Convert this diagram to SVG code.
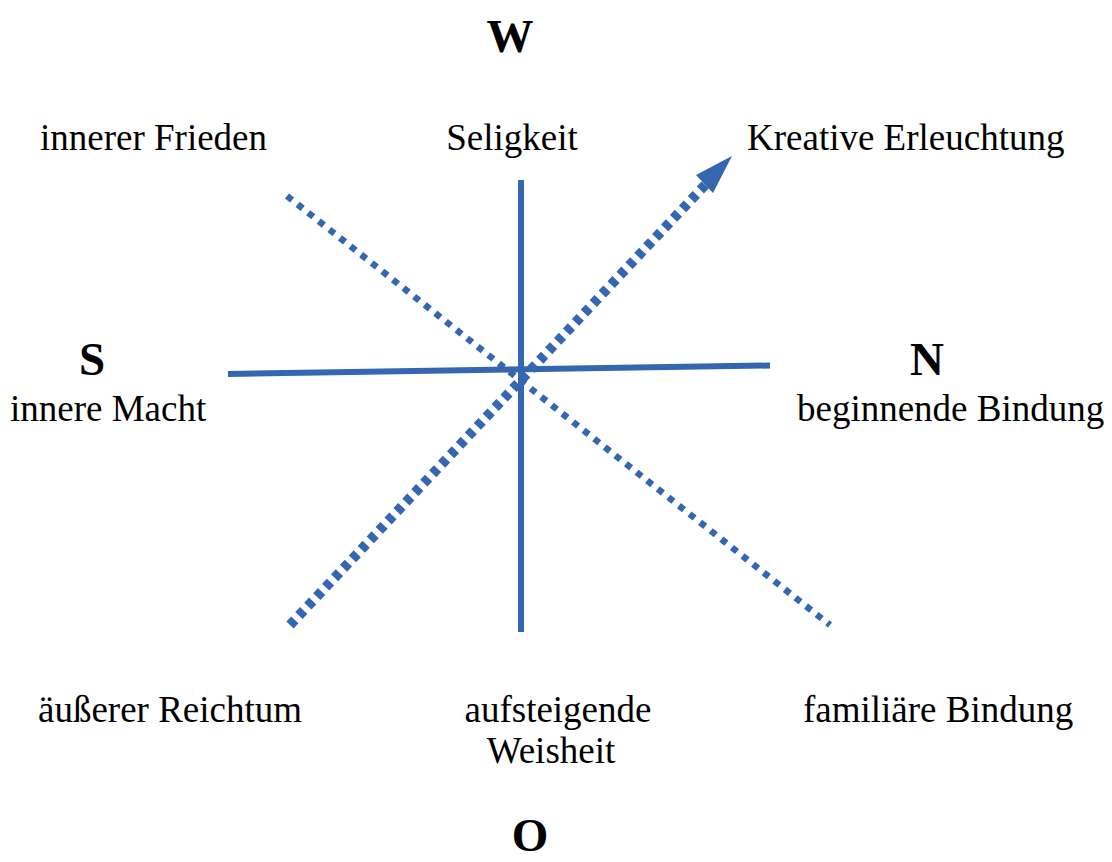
<svg xmlns="http://www.w3.org/2000/svg" width="1112" height="862" viewBox="0 0 1112 862">
<style>
.t{font-family:"Liberation Serif","Times New Roman",serif;font-size:37px;fill:#000}
.b{font-family:"Liberation Serif","Times New Roman",serif;font-size:47px;font-weight:bold;fill:#000}
.m{text-anchor:middle}
.solid{stroke:#3566B0;stroke-width:6;fill:none}
.dot{stroke:#3566B0;stroke-width:6.5;stroke-dasharray:6.5 7;fill:none}
.dash{stroke:#3566B0;stroke-width:10;stroke-dasharray:7 6;fill:none}
</style>
<rect width="1112" height="862" fill="#fff"/>
<g id="connectors">
<line class="solid" x1="521" y1="180" x2="521" y2="632"/>
<line class="solid" x1="228" y1="374" x2="770" y2="365.5"/>
<line class="dot" x1="287" y1="196" x2="830" y2="625"/>
<line class="dash" x1="290" y1="625" x2="707" y2="183"/>
<polygon points="732,156 696,175 713,193" fill="#3566B0"/>
</g>
<g id="W"><text class="b m" x="510" y="52">W</text></g>
<g id="S"><text class="b m" x="92" y="375">S</text></g>
<g id="N"><text class="b m" x="927" y="375">N</text></g>
<g id="O"><text class="b m" x="530" y="851">O</text></g>
<g id="innerer-frieden"><text class="t" x="40" y="150">innerer Frieden</text></g>
<g id="seligkeit"><text class="t m" x="512" y="150">Seligkeit</text></g>
<g id="kreative"><text class="t" x="747" y="150">Kreative Erleuchtung</text></g>
<g id="innere-macht"><text class="t" x="10" y="421">innere Macht</text></g>
<g id="beginnende"><text class="t" x="797" y="421">beginnende Bindung</text></g>
<g id="reichtum"><text class="t" x="38" y="722">äußerer Reichtum</text></g>
<g id="weisheit"><text class="t m" x="558" y="722">aufsteigende</text><text class="t m" x="551" y="763">Weisheit</text></g>
<g id="familiaere"><text class="t" x="803" y="722">familiäre Bindung</text></g>
</svg>
